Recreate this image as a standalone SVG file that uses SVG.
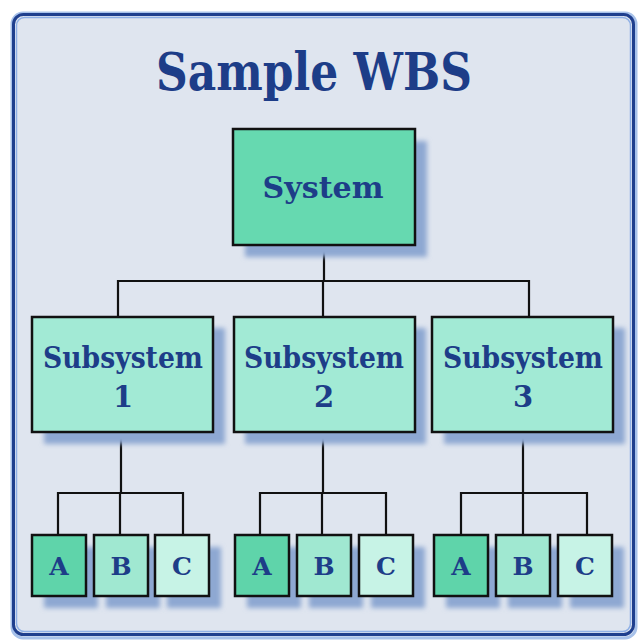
<svg xmlns="http://www.w3.org/2000/svg" width="639" height="642" viewBox="0 0 639 642">
<style>
.t{font-family:"DejaVu Serif","Liberation Serif",serif;font-weight:bold;fill:#1d3d88;text-anchor:middle}
.box{stroke:#111;stroke-width:2.5}
.sh{fill:#8ea8d2;filter:url(#blur)}
.ln{fill:none;stroke:#111;stroke-width:2.2}
</style>
<defs>
<filter id="blur" x="-20%" y="-20%" width="140%" height="140%"><feGaussianBlur stdDeviation="2.5"/></filter>
</defs>
<rect width="639" height="642" fill="#ffffff"/>
<g id="frame">
<rect x="12" y="13" width="624" height="625" rx="11" fill="#dfe5ef" stroke="#a8c2ea" stroke-width="3"/>
<rect x="13.5" y="14.5" width="620" height="620" rx="10" fill="none" stroke="#1f3f8e" stroke-width="3"/>
<rect x="16.5" y="17.5" width="614" height="614" rx="8" fill="none" stroke="#8fb0e6" stroke-width="1.5"/>
</g>
<text class="t" x="314" y="90" font-size="52" textLength="316" lengthAdjust="spacingAndGlyphs">Sample WBS</text>
<g id="connectors">
<path class="ln" d="M324 245V281M118 317V281H529V317M323 281V317"/>
<path class="ln" d="M121 432V493M58 535V493H183V535M120 493V535"/>
<path class="ln" d="M323 432V493M260 535V493H386V535M322 493V535"/>
<path class="ln" d="M523 432V493M461 535V493H587V535M523 493V535"/>
</g>
<g id="system">
<rect class="sh" x="245" y="141" width="182" height="116"/>
<rect class="box" x="233" y="129" width="182" height="116" fill="#66d9b0"/>
<text class="t" x="323" y="198" font-size="30" textLength="121" lengthAdjust="spacingAndGlyphs">System</text>
</g>
<g id="subsystem1">
<rect class="sh" x="44" y="328" width="181" height="116"/>
<rect class="box" x="32" y="317" width="181" height="115" fill="#a2ead5"/>
<text class="t" x="123" y="368" font-size="29" textLength="160" lengthAdjust="spacingAndGlyphs">Subsystem</text>
<text class="t" x="123" y="407" font-size="29">1</text>
</g>
<g id="subsystem2">
<rect class="sh" x="245" y="328" width="181" height="116"/>
<rect class="box" x="234" y="317" width="181" height="115" fill="#a2ead5"/>
<text class="t" x="324" y="368" font-size="29" textLength="160" lengthAdjust="spacingAndGlyphs">Subsystem</text>
<text class="t" x="324" y="407" font-size="29">2</text>
</g>
<g id="subsystem3">
<rect class="sh" x="444" y="328" width="181" height="116"/>
<rect class="box" x="432" y="317" width="181" height="115" fill="#a2ead5"/>
<text class="t" x="523" y="368" font-size="29" textLength="160" lengthAdjust="spacingAndGlyphs">Subsystem</text>
<text class="t" x="523" y="407" font-size="29">3</text>
</g>
<g id="s1a"><rect class="sh" x="44" y="547" width="54" height="61"/><rect class="box" x="32" y="535" width="54" height="61" fill="#5fd4aa"/><text class="t" x="59" y="575" font-size="25">A</text></g>
<g id="s1b"><rect class="sh" x="106" y="547" width="54" height="61"/><rect class="box" x="94" y="535" width="54" height="61" fill="#a0e8d1"/><text class="t" x="121" y="575" font-size="25">B</text></g>
<g id="s1c"><rect class="sh" x="167" y="547" width="54" height="61"/><rect class="box" x="155" y="535" width="54" height="61" fill="#c7f3e6"/><text class="t" x="182" y="575" font-size="25">C</text></g>
<g id="s2a"><rect class="sh" x="247" y="547" width="54" height="61"/><rect class="box" x="235" y="535" width="54" height="61" fill="#5fd4aa"/><text class="t" x="262" y="575" font-size="25">A</text></g>
<g id="s2b"><rect class="sh" x="309" y="547" width="54" height="61"/><rect class="box" x="297" y="535" width="54" height="61" fill="#a0e8d1"/><text class="t" x="324" y="575" font-size="25">B</text></g>
<g id="s2c"><rect class="sh" x="371" y="547" width="54" height="61"/><rect class="box" x="359" y="535" width="54" height="61" fill="#c7f3e6"/><text class="t" x="386" y="575" font-size="25">C</text></g>
<g id="s3a"><rect class="sh" x="446" y="547" width="54" height="61"/><rect class="box" x="434" y="535" width="54" height="61" fill="#5fd4aa"/><text class="t" x="461" y="575" font-size="25">A</text></g>
<g id="s3b"><rect class="sh" x="508" y="547" width="54" height="61"/><rect class="box" x="496" y="535" width="54" height="61" fill="#a0e8d1"/><text class="t" x="523" y="575" font-size="25">B</text></g>
<g id="s3c"><rect class="sh" x="570" y="547" width="54" height="61"/><rect class="box" x="558" y="535" width="54" height="61" fill="#c7f3e6"/><text class="t" x="585" y="575" font-size="25">C</text></g>
</svg>
